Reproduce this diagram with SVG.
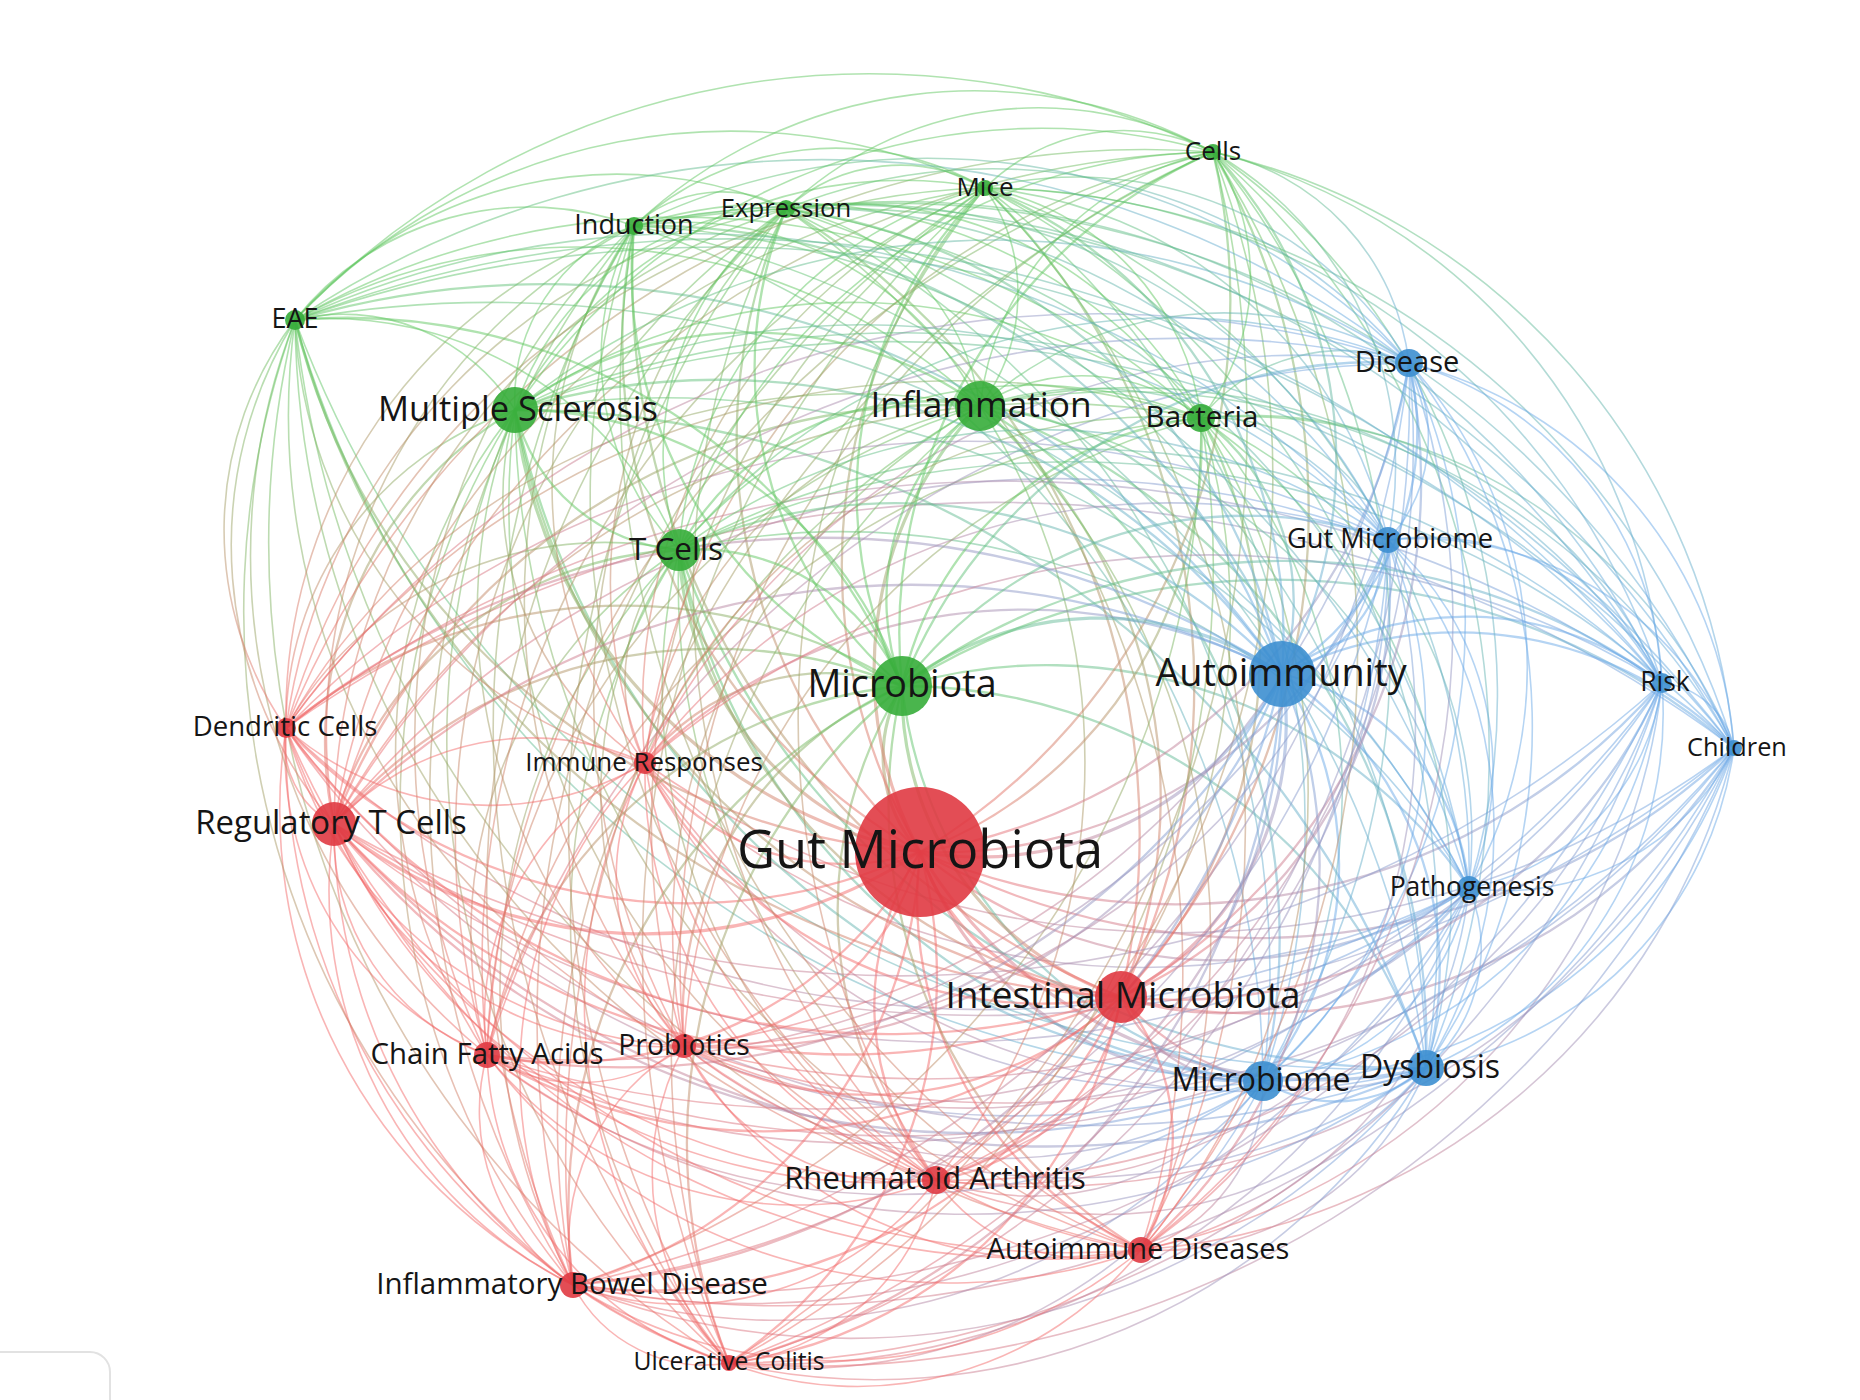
<svg xmlns="http://www.w3.org/2000/svg" width="1860" height="1400" viewBox="0 0 1860 1400">
<style>
.e path{fill:none;vector-effect:non-scaling-stroke;stroke-opacity:.5;stroke-linecap:round}
.gg{stroke:#62c762}.rr{stroke:#f36c6c}.bb{stroke:#6ba9e8}
.rg{stroke:url(#Grg)}.gr{stroke:url(#Ggr)}.rb{stroke:url(#Grb)}.br{stroke:url(#Gbr)}.gb{stroke:url(#Ggb)}.bg{stroke:url(#Gbg)}
.w1{stroke-width:1.6}.w2{stroke-width:2.3}.w3{stroke-width:3.2}
.n circle{fill-opacity:.9}
.ng circle{fill:#36ad3a}.nr circle{fill:#e03a42}.nb circle{fill:#3d8fd0}
.n text{font-family:"Open Sans","Noto Sans","DejaVu Sans",sans-serif;fill:#151515;text-anchor:middle}
</style>
<defs>
<linearGradient id="Grg" gradientUnits="userSpaceOnUse" x1="0" y1="0" x2="1" y2="0"><stop offset="0" stop-color="#f36c6c"/><stop offset="1" stop-color="#62c762"/></linearGradient>
<linearGradient id="Ggr" gradientUnits="userSpaceOnUse" x1="0" y1="0" x2="1" y2="0"><stop offset="0" stop-color="#62c762"/><stop offset="1" stop-color="#f36c6c"/></linearGradient>
<linearGradient id="Grb" gradientUnits="userSpaceOnUse" x1="0" y1="0" x2="1" y2="0"><stop offset="0" stop-color="#f36c6c"/><stop offset="1" stop-color="#6ba9e8"/></linearGradient>
<linearGradient id="Gbr" gradientUnits="userSpaceOnUse" x1="0" y1="0" x2="1" y2="0"><stop offset="0" stop-color="#6ba9e8"/><stop offset="1" stop-color="#f36c6c"/></linearGradient>
<linearGradient id="Ggb" gradientUnits="userSpaceOnUse" x1="0" y1="0" x2="1" y2="0"><stop offset="0" stop-color="#62c762"/><stop offset="1" stop-color="#6ba9e8"/></linearGradient>
<linearGradient id="Gbg" gradientUnits="userSpaceOnUse" x1="0" y1="0" x2="1" y2="0"><stop offset="0" stop-color="#6ba9e8"/><stop offset="1" stop-color="#62c762"/></linearGradient>
</defs>
<rect width="1860" height="1400" fill="#ffffff"/>
<g id="connectors" class="e">
<path class="bb w1" transform="matrix(-265 140 -140 -265 1734 748)" d="M0 0A.85 .85 0 0 1 1 0"/>
<path class="bb w1" transform="matrix(-308 320 -320 -308 1734 748)" d="M0 0A.85 .85 0 0 1 1 0"/>
<path class="bb w1" transform="matrix(-471 333 -333 -471 1734 748)" d="M0 0A.85 .85 0 0 1 1 0"/>
<path class="br w2" transform="matrix(-613 249 -249 -613 1734 748)" d="M0 0A.85 .85 0 0 1 1 0"/>
<path class="br w1" transform="matrix(-593 502 -502 -593 1734 748)" d="M0 0A.85 .85 0 0 1 1 0"/>
<path class="br w1" transform="matrix(-798 432 -432 -798 1734 748)" d="M0 0A.85 .85 0 0 1 1 0"/>
<path class="br w2" transform="matrix(-814 104 -104 -814 1734 748)" d="M0 0A.85 .85 0 0 1 1 0"/>
<path class="br w1" transform="matrix(-1005 615 -615 -1005 1734 748)" d="M0 0A.85 .85 0 0 1 1 0"/>
<path class="br w1" transform="matrix(-1161 537 -537 -1161 1734 748)" d="M0 0A.85 .85 0 0 1 1 0"/>
<path class="br w1" transform="matrix(-1050 298 -298 -1050 1734 748)" d="M0 0A.85 .85 0 0 1 1 0"/>
<path class="br w1" transform="matrix(-1247 307 -307 -1247 1734 748)" d="M0 0A.85 .85 0 0 1 1 0"/>
<path class="br w1" transform="matrix(-1400 76 -76 -1400 1734 748)" d="M0 0A.85 .85 0 0 1 1 0"/>
<path class="br w1" transform="matrix(-1089 15 -15 -1089 1734 748)" d="M0 0A.85 .85 0 0 1 1 0"/>
<path class="rb w1" transform="matrix(1448 20 -20 1448 286 728)" d="M0 0A.85 .85 0 0 1 1 0"/>
<path class="gb w1" transform="matrix(1439 428 -428 1439 295 320)" d="M0 0A.85 .85 0 0 1 1 0"/>
<path class="gb w1" transform="matrix(1055 198 -198 1055 679 550)" d="M0 0A.85 .85 0 0 1 1 0"/>
<path class="gb w1" transform="matrix(1219 338 -338 1219 515 410)" d="M0 0A.85 .85 0 0 1 1 0"/>
<path class="gb w2" transform="matrix(832 62 -62 832 902 686)" d="M0 0A.85 .85 0 0 1 1 0"/>
<path class="gb w1" transform="matrix(1100 522 -522 1100 634 226)" d="M0 0A.85 .85 0 0 1 1 0"/>
<path class="gb w1" transform="matrix(948 539 -539 948 786 209)" d="M0 0A.85 .85 0 0 1 1 0"/>
<path class="gb w1" transform="matrix(749 560 -560 749 985 188)" d="M0 0A.85 .85 0 0 1 1 0"/>
<path class="gb w1" transform="matrix(754 342 -342 754 980 406)" d="M0 0A.85 .85 0 0 1 1 0"/>
<path class="gb w1" transform="matrix(521 596 -596 521 1213 152)" d="M0 0A.85 .85 0 0 1 1 0"/>
<path class="gb w1" transform="matrix(533 330 -330 533 1201 418)" d="M0 0A.85 .85 0 0 1 1 0"/>
<path class="bb w1" transform="matrix(325 385 -385 325 1409 363)" d="M0 0A.85 .85 0 0 1 1 0"/>
<path class="bb w1" transform="matrix(346 208 -208 346 1388 540)" d="M0 0A.85 .85 0 0 1 1 0"/>
<path class="bb w2" transform="matrix(452 74 -74 452 1282 674)" d="M0 0A.85 .85 0 0 1 1 0"/>
<path class="bb w1" transform="matrix(72 65 -65 72 1662 683)" d="M0 0A.85 .85 0 0 1 1 0"/>
<path class="bb w1" transform="matrix(-43 180 -180 -43 1469 888)" d="M0 0A.85 .85 0 0 1 1 0"/>
<path class="bb w1" transform="matrix(-206 193 -193 -206 1469 888)" d="M0 0A.85 .85 0 0 1 1 0"/>
<path class="br w2" transform="matrix(-348 109 -109 -348 1469 888)" d="M0 0A.85 .85 0 0 1 1 0"/>
<path class="br w1" transform="matrix(-328 362 -362 -328 1469 888)" d="M0 0A.85 .85 0 0 1 1 0"/>
<path class="br w1" transform="matrix(-533 292 -292 -533 1469 888)" d="M0 0A.85 .85 0 0 1 1 0"/>
<path class="br w2" transform="matrix(-549 -36 36 -549 1469 888)" d="M0 0A.85 .85 0 0 1 1 0"/>
<path class="br w1" transform="matrix(-740 475 -475 -740 1469 888)" d="M0 0A.85 .85 0 0 1 1 0"/>
<path class="br w1" transform="matrix(-896 397 -397 -896 1469 888)" d="M0 0A.85 .85 0 0 1 1 0"/>
<path class="br w1" transform="matrix(-785 158 -158 -785 1469 888)" d="M0 0A.85 .85 0 0 1 1 0"/>
<path class="br w1" transform="matrix(-982 167 -167 -982 1469 888)" d="M0 0A.85 .85 0 0 1 1 0"/>
<path class="br w1" transform="matrix(-1135 -64 64 -1135 1469 888)" d="M0 0A.85 .85 0 0 1 1 0"/>
<path class="br w1" transform="matrix(-824 -125 125 -824 1469 888)" d="M0 0A.85 .85 0 0 1 1 0"/>
<path class="br w1" transform="matrix(-1183 -160 160 -1183 1469 888)" d="M0 0A.85 .85 0 0 1 1 0"/>
<path class="gb w1" transform="matrix(1174 568 -568 1174 295 320)" d="M0 0A.85 .85 0 0 1 1 0"/>
<path class="gb w1" transform="matrix(790 338 -338 790 679 550)" d="M0 0A.85 .85 0 0 1 1 0"/>
<path class="gb w1" transform="matrix(954 478 -478 954 515 410)" d="M0 0A.85 .85 0 0 1 1 0"/>
<path class="gb w2" transform="matrix(567 202 -202 567 902 686)" d="M0 0A.85 .85 0 0 1 1 0"/>
<path class="gb w1" transform="matrix(835 662 -662 835 634 226)" d="M0 0A.85 .85 0 0 1 1 0"/>
<path class="gb w1" transform="matrix(683 679 -679 683 786 209)" d="M0 0A.85 .85 0 0 1 1 0"/>
<path class="gb w1" transform="matrix(484 700 -700 484 985 188)" d="M0 0A.85 .85 0 0 1 1 0"/>
<path class="gb w1" transform="matrix(489 482 -482 489 980 406)" d="M0 0A.85 .85 0 0 1 1 0"/>
<path class="gb w1" transform="matrix(256 736 -736 256 1213 152)" d="M0 0A.85 .85 0 0 1 1 0"/>
<path class="gb w1" transform="matrix(268 470 -470 268 1201 418)" d="M0 0A.85 .85 0 0 1 1 0"/>
<path class="bb w1" transform="matrix(60 525 -525 60 1409 363)" d="M0 0A.85 .85 0 0 1 1 0"/>
<path class="bb w1" transform="matrix(81 348 -348 81 1388 540)" d="M0 0A.85 .85 0 0 1 1 0"/>
<path class="bb w2" transform="matrix(187 214 -214 187 1282 674)" d="M0 0A.85 .85 0 0 1 1 0"/>
<path class="bb w1" transform="matrix(-193 205 -205 -193 1662 683)" d="M0 0A.85 .85 0 0 1 1 0"/>
<path class="bb w2" transform="matrix(-163 13 -13 -163 1426 1068)" d="M0 0A.85 .85 0 0 1 1 0"/>
<path class="br w2" transform="matrix(-305 -71 71 -305 1426 1068)" d="M0 0A.85 .85 0 0 1 1 0"/>
<path class="br w1" transform="matrix(-285 182 -182 -285 1426 1068)" d="M0 0A.85 .85 0 0 1 1 0"/>
<path class="br w1" transform="matrix(-490 112 -112 -490 1426 1068)" d="M0 0A.85 .85 0 0 1 1 0"/>
<path class="br w3" transform="matrix(-506 -216 216 -506 1426 1068)" d="M0 0A.85 .85 0 0 1 1 0"/>
<path class="br w1" transform="matrix(-697 295 -295 -697 1426 1068)" d="M0 0A.85 .85 0 0 1 1 0"/>
<path class="br w1" transform="matrix(-853 217 -217 -853 1426 1068)" d="M0 0A.85 .85 0 0 1 1 0"/>
<path class="br w1" transform="matrix(-742 -22 22 -742 1426 1068)" d="M0 0A.85 .85 0 0 1 1 0"/>
<path class="br w1" transform="matrix(-939 -13 13 -939 1426 1068)" d="M0 0A.85 .85 0 0 1 1 0"/>
<path class="br w2" transform="matrix(-1092 -244 244 -1092 1426 1068)" d="M0 0A.85 .85 0 0 1 1 0"/>
<path class="br w1" transform="matrix(-781 -305 305 -781 1426 1068)" d="M0 0A.85 .85 0 0 1 1 0"/>
<path class="br w1" transform="matrix(-1140 -340 340 -1140 1426 1068)" d="M0 0A.85 .85 0 0 1 1 0"/>
<path class="bg w1" transform="matrix(-1131 -748 748 -1131 1426 1068)" d="M0 0A.85 .85 0 0 1 1 0"/>
<path class="bg w2" transform="matrix(-747 -518 518 -747 1426 1068)" d="M0 0A.85 .85 0 0 1 1 0"/>
<path class="gb w2" transform="matrix(911 658 -658 911 515 410)" d="M0 0A.85 .85 0 0 1 1 0"/>
<path class="gb w2" transform="matrix(524 382 -382 524 902 686)" d="M0 0A.85 .85 0 0 1 1 0"/>
<path class="gb w1" transform="matrix(792 842 -842 792 634 226)" d="M0 0A.85 .85 0 0 1 1 0"/>
<path class="gb w1" transform="matrix(640 859 -859 640 786 209)" d="M0 0A.85 .85 0 0 1 1 0"/>
<path class="gb w1" transform="matrix(441 880 -880 441 985 188)" d="M0 0A.85 .85 0 0 1 1 0"/>
<path class="gb w2" transform="matrix(446 662 -662 446 980 406)" d="M0 0A.85 .85 0 0 1 1 0"/>
<path class="gb w1" transform="matrix(213 916 -916 213 1213 152)" d="M0 0A.85 .85 0 0 1 1 0"/>
<path class="gb w1" transform="matrix(225 650 -650 225 1201 418)" d="M0 0A.85 .85 0 0 1 1 0"/>
<path class="bb w1" transform="matrix(17 705 -705 17 1409 363)" d="M0 0A.85 .85 0 0 1 1 0"/>
<path class="bb w1" transform="matrix(38 528 -528 38 1388 540)" d="M0 0A.85 .85 0 0 1 1 0"/>
<path class="bb w2" transform="matrix(144 394 -394 144 1282 674)" d="M0 0A.85 .85 0 0 1 1 0"/>
<path class="bb w1" transform="matrix(-236 385 -385 -236 1662 683)" d="M0 0A.85 .85 0 0 1 1 0"/>
<path class="br w2" transform="matrix(-142 -84 84 -142 1263 1081)" d="M0 0A.85 .85 0 0 1 1 0"/>
<path class="br w1" transform="matrix(-122 169 -169 -122 1263 1081)" d="M0 0A.85 .85 0 0 1 1 0"/>
<path class="br w1" transform="matrix(-327 99 -99 -327 1263 1081)" d="M0 0A.85 .85 0 0 1 1 0"/>
<path class="br w3" transform="matrix(-343 -229 229 -343 1263 1081)" d="M0 0A.85 .85 0 0 1 1 0"/>
<path class="br w1" transform="matrix(-534 282 -282 -534 1263 1081)" d="M0 0A.85 .85 0 0 1 1 0"/>
<path class="br w1" transform="matrix(-690 204 -204 -690 1263 1081)" d="M0 0A.85 .85 0 0 1 1 0"/>
<path class="br w1" transform="matrix(-579 -35 35 -579 1263 1081)" d="M0 0A.85 .85 0 0 1 1 0"/>
<path class="br w1" transform="matrix(-776 -26 26 -776 1263 1081)" d="M0 0A.85 .85 0 0 1 1 0"/>
<path class="br w2" transform="matrix(-929 -257 257 -929 1263 1081)" d="M0 0A.85 .85 0 0 1 1 0"/>
<path class="br w1" transform="matrix(-618 -318 318 -618 1263 1081)" d="M0 0A.85 .85 0 0 1 1 0"/>
<path class="br w1" transform="matrix(-977 -353 353 -977 1263 1081)" d="M0 0A.85 .85 0 0 1 1 0"/>
<path class="bg w1" transform="matrix(-968 -761 761 -968 1263 1081)" d="M0 0A.85 .85 0 0 1 1 0"/>
<path class="bg w2" transform="matrix(-584 -531 531 -584 1263 1081)" d="M0 0A.85 .85 0 0 1 1 0"/>
<path class="bg w2" transform="matrix(-748 -671 671 -748 1263 1081)" d="M0 0A.85 .85 0 0 1 1 0"/>
<path class="bg w2" transform="matrix(-361 -395 395 -361 1263 1081)" d="M0 0A.85 .85 0 0 1 1 0"/>
<path class="gb w1" transform="matrix(629 855 -855 629 634 226)" d="M0 0A.85 .85 0 0 1 1 0"/>
<path class="gb w1" transform="matrix(477 872 -872 477 786 209)" d="M0 0A.85 .85 0 0 1 1 0"/>
<path class="gb w1" transform="matrix(278 893 -893 278 985 188)" d="M0 0A.85 .85 0 0 1 1 0"/>
<path class="gb w2" transform="matrix(283 675 -675 283 980 406)" d="M0 0A.85 .85 0 0 1 1 0"/>
<path class="gb w1" transform="matrix(50 929 -929 50 1213 152)" d="M0 0A.85 .85 0 0 1 1 0"/>
<path class="gb w1" transform="matrix(62 663 -663 62 1201 418)" d="M0 0A.85 .85 0 0 1 1 0"/>
<path class="bb w1" transform="matrix(-146 718 -718 -146 1409 363)" d="M0 0A.85 .85 0 0 1 1 0"/>
<path class="bb w1" transform="matrix(-125 541 -541 -125 1388 540)" d="M0 0A.85 .85 0 0 1 1 0"/>
<path class="bb w2" transform="matrix(-19 407 -407 -19 1282 674)" d="M0 0A.85 .85 0 0 1 1 0"/>
<path class="bb w1" transform="matrix(-399 398 -398 -399 1662 683)" d="M0 0A.85 .85 0 0 1 1 0"/>
<path class="rr w2" transform="matrix(20 253 -253 20 1121 997)" d="M0 0A.85 .85 0 0 1 1 0"/>
<path class="rr w2" transform="matrix(-185 183 -183 -185 1121 997)" d="M0 0A.85 .85 0 0 1 1 0"/>
<path class="rr w3" transform="matrix(-201 -145 145 -201 1121 997)" d="M0 0A.85 .85 0 0 1 1 0"/>
<path class="rr w2" transform="matrix(-392 366 -366 -392 1121 997)" d="M0 0A.85 .85 0 0 1 1 0"/>
<path class="rr w2" transform="matrix(-548 288 -288 -548 1121 997)" d="M0 0A.85 .85 0 0 1 1 0"/>
<path class="rr w2" transform="matrix(-437 49 -49 -437 1121 997)" d="M0 0A.85 .85 0 0 1 1 0"/>
<path class="rr w2" transform="matrix(-634 58 -58 -634 1121 997)" d="M0 0A.85 .85 0 0 1 1 0"/>
<path class="rr w2" transform="matrix(-787 -173 173 -787 1121 997)" d="M0 0A.85 .85 0 0 1 1 0"/>
<path class="rr w2" transform="matrix(-476 -234 234 -476 1121 997)" d="M0 0A.85 .85 0 0 1 1 0"/>
<path class="rr w2" transform="matrix(-835 -269 269 -835 1121 997)" d="M0 0A.85 .85 0 0 1 1 0"/>
<path class="rg w2" transform="matrix(-826 -677 677 -826 1121 997)" d="M0 0A.85 .85 0 0 1 1 0"/>
<path class="rg w2" transform="matrix(-442 -447 447 -442 1121 997)" d="M0 0A.85 .85 0 0 1 1 0"/>
<path class="rg w2" transform="matrix(-606 -587 587 -606 1121 997)" d="M0 0A.85 .85 0 0 1 1 0"/>
<path class="rg w3" transform="matrix(-219 -311 311 -219 1121 997)" d="M0 0A.85 .85 0 0 1 1 0"/>
<path class="rg w2" transform="matrix(-487 -771 771 -487 1121 997)" d="M0 0A.85 .85 0 0 1 1 0"/>
<path class="gr w2" transform="matrix(335 788 -788 335 786 209)" d="M0 0A.85 .85 0 0 1 1 0"/>
<path class="gr w2" transform="matrix(136 809 -809 136 985 188)" d="M0 0A.85 .85 0 0 1 1 0"/>
<path class="gr w2" transform="matrix(141 591 -591 141 980 406)" d="M0 0A.85 .85 0 0 1 1 0"/>
<path class="gr w2" transform="matrix(-92 845 -845 -92 1213 152)" d="M0 0A.85 .85 0 0 1 1 0"/>
<path class="gr w2" transform="matrix(-80 579 -579 -80 1201 418)" d="M0 0A.85 .85 0 0 1 1 0"/>
<path class="br w2" transform="matrix(-288 634 -634 -288 1409 363)" d="M0 0A.85 .85 0 0 1 1 0"/>
<path class="br w2" transform="matrix(-267 457 -457 -267 1388 540)" d="M0 0A.85 .85 0 0 1 1 0"/>
<path class="br w3" transform="matrix(-161 323 -323 -161 1282 674)" d="M0 0A.85 .85 0 0 1 1 0"/>
<path class="br w2" transform="matrix(-541 314 -314 -541 1662 683)" d="M0 0A.85 .85 0 0 1 1 0"/>
<path class="rr w1" transform="matrix(-205 -70 70 -205 1141 1250)" d="M0 0A.85 .85 0 0 1 1 0"/>
<path class="rr w2" transform="matrix(-221 -398 398 -221 1141 1250)" d="M0 0A.85 .85 0 0 1 1 0"/>
<path class="rr w1" transform="matrix(-412 113 -113 -412 1141 1250)" d="M0 0A.85 .85 0 0 1 1 0"/>
<path class="rr w1" transform="matrix(-568 35 -35 -568 1141 1250)" d="M0 0A.85 .85 0 0 1 1 0"/>
<path class="rr w1" transform="matrix(-457 -204 204 -457 1141 1250)" d="M0 0A.85 .85 0 0 1 1 0"/>
<path class="rr w1" transform="matrix(-654 -195 195 -654 1141 1250)" d="M0 0A.85 .85 0 0 1 1 0"/>
<path class="rr w1" transform="matrix(-807 -426 426 -807 1141 1250)" d="M0 0A.85 .85 0 0 1 1 0"/>
<path class="rr w1" transform="matrix(-496 -487 487 -496 1141 1250)" d="M0 0A.85 .85 0 0 1 1 0"/>
<path class="rr w1" transform="matrix(-855 -522 522 -855 1141 1250)" d="M0 0A.85 .85 0 0 1 1 0"/>
<path class="rg w1" transform="matrix(-846 -930 930 -846 1141 1250)" d="M0 0A.85 .85 0 0 1 1 0"/>
<path class="rg w1" transform="matrix(-462 -700 700 -462 1141 1250)" d="M0 0A.85 .85 0 0 1 1 0"/>
<path class="rg w1" transform="matrix(-626 -840 840 -626 1141 1250)" d="M0 0A.85 .85 0 0 1 1 0"/>
<path class="rg w2" transform="matrix(-239 -564 564 -239 1141 1250)" d="M0 0A.85 .85 0 0 1 1 0"/>
<path class="rg w1" transform="matrix(-507 -1024 1024 -507 1141 1250)" d="M0 0A.85 .85 0 0 1 1 0"/>
<path class="gr w1" transform="matrix(355 1041 -1041 355 786 209)" d="M0 0A.85 .85 0 0 1 1 0"/>
<path class="gr w1" transform="matrix(156 1062 -1062 156 985 188)" d="M0 0A.85 .85 0 0 1 1 0"/>
<path class="gr w1" transform="matrix(161 844 -844 161 980 406)" d="M0 0A.85 .85 0 0 1 1 0"/>
<path class="gr w1" transform="matrix(-72 1098 -1098 -72 1213 152)" d="M0 0A.85 .85 0 0 1 1 0"/>
<path class="gr w1" transform="matrix(-60 832 -832 -60 1201 418)" d="M0 0A.85 .85 0 0 1 1 0"/>
<path class="br w1" transform="matrix(-268 887 -887 -268 1409 363)" d="M0 0A.85 .85 0 0 1 1 0"/>
<path class="br w1" transform="matrix(-247 710 -710 -247 1388 540)" d="M0 0A.85 .85 0 0 1 1 0"/>
<path class="br w2" transform="matrix(-141 576 -576 -141 1282 674)" d="M0 0A.85 .85 0 0 1 1 0"/>
<path class="br w1" transform="matrix(-521 567 -567 -521 1662 683)" d="M0 0A.85 .85 0 0 1 1 0"/>
<path class="rr w2" transform="matrix(-16 -328 328 -16 936 1180)" d="M0 0A.85 .85 0 0 1 1 0"/>
<path class="rr w1" transform="matrix(-207 183 -183 -207 936 1180)" d="M0 0A.85 .85 0 0 1 1 0"/>
<path class="rr w1" transform="matrix(-363 105 -105 -363 936 1180)" d="M0 0A.85 .85 0 0 1 1 0"/>
<path class="rr w1" transform="matrix(-252 -134 134 -252 936 1180)" d="M0 0A.85 .85 0 0 1 1 0"/>
<path class="rr w1" transform="matrix(-449 -125 125 -449 936 1180)" d="M0 0A.85 .85 0 0 1 1 0"/>
<path class="rr w1" transform="matrix(-602 -356 356 -602 936 1180)" d="M0 0A.85 .85 0 0 1 1 0"/>
<path class="rr w1" transform="matrix(-291 -417 417 -291 936 1180)" d="M0 0A.85 .85 0 0 1 1 0"/>
<path class="rr w1" transform="matrix(-650 -452 452 -650 936 1180)" d="M0 0A.85 .85 0 0 1 1 0"/>
<path class="rg w1" transform="matrix(-641 -860 860 -641 936 1180)" d="M0 0A.85 .85 0 0 1 1 0"/>
<path class="rg w1" transform="matrix(-257 -630 630 -257 936 1180)" d="M0 0A.85 .85 0 0 1 1 0"/>
<path class="rg w1" transform="matrix(-421 -770 770 -421 936 1180)" d="M0 0A.85 .85 0 0 1 1 0"/>
<path class="rg w2" transform="matrix(-34 -494 494 -34 936 1180)" d="M0 0A.85 .85 0 0 1 1 0"/>
<path class="rg w1" transform="matrix(-302 -954 954 -302 936 1180)" d="M0 0A.85 .85 0 0 1 1 0"/>
<path class="rg w1" transform="matrix(-150 -971 971 -150 936 1180)" d="M0 0A.85 .85 0 0 1 1 0"/>
<path class="rg w1" transform="matrix(49 -992 992 49 936 1180)" d="M0 0A.85 .85 0 0 1 1 0"/>
<path class="gr w1" transform="matrix(-44 774 -774 -44 980 406)" d="M0 0A.85 .85 0 0 1 1 0"/>
<path class="gr w1" transform="matrix(-277 1028 -1028 -277 1213 152)" d="M0 0A.85 .85 0 0 1 1 0"/>
<path class="gr w1" transform="matrix(-265 762 -762 -265 1201 418)" d="M0 0A.85 .85 0 0 1 1 0"/>
<path class="br w1" transform="matrix(-473 817 -817 -473 1409 363)" d="M0 0A.85 .85 0 0 1 1 0"/>
<path class="br w1" transform="matrix(-452 640 -640 -452 1388 540)" d="M0 0A.85 .85 0 0 1 1 0"/>
<path class="br w2" transform="matrix(-346 506 -506 -346 1282 674)" d="M0 0A.85 .85 0 0 1 1 0"/>
<path class="br w1" transform="matrix(-726 497 -497 -726 1662 683)" d="M0 0A.85 .85 0 0 1 1 0"/>
<path class="rr w2" transform="matrix(-191 511 -511 -191 920 852)" d="M0 0A.85 .85 0 0 1 1 0"/>
<path class="rr w2" transform="matrix(-347 433 -433 -347 920 852)" d="M0 0A.85 .85 0 0 1 1 0"/>
<path class="rr w2" transform="matrix(-236 194 -194 -236 920 852)" d="M0 0A.85 .85 0 0 1 1 0"/>
<path class="rr w2" transform="matrix(-433 203 -203 -433 920 852)" d="M0 0A.85 .85 0 0 1 1 0"/>
<path class="rr w3" transform="matrix(-586 -28 28 -586 920 852)" d="M0 0A.85 .85 0 0 1 1 0"/>
<path class="rr w2" transform="matrix(-275 -89 89 -275 920 852)" d="M0 0A.85 .85 0 0 1 1 0"/>
<path class="rr w2" transform="matrix(-634 -124 124 -634 920 852)" d="M0 0A.85 .85 0 0 1 1 0"/>
<path class="rg w2" transform="matrix(-625 -532 532 -625 920 852)" d="M0 0A.85 .85 0 0 1 1 0"/>
<path class="rg w3" transform="matrix(-241 -302 302 -241 920 852)" d="M0 0A.85 .85 0 0 1 1 0"/>
<path class="rg w3" transform="matrix(-405 -442 442 -405 920 852)" d="M0 0A.85 .85 0 0 1 1 0"/>
<path class="rg w3" transform="matrix(-18 -166 166 -18 920 852)" d="M0 0A.85 .85 0 0 1 1 0"/>
<path class="rg w2" transform="matrix(-286 -626 626 -286 920 852)" d="M0 0A.85 .85 0 0 1 1 0"/>
<path class="rg w2" transform="matrix(-134 -643 643 -134 920 852)" d="M0 0A.85 .85 0 0 1 1 0"/>
<path class="rg w2" transform="matrix(65 -664 664 65 920 852)" d="M0 0A.85 .85 0 0 1 1 0"/>
<path class="rg w3" transform="matrix(60 -446 446 60 920 852)" d="M0 0A.85 .85 0 0 1 1 0"/>
<path class="gr w2" transform="matrix(-293 700 -700 -293 1213 152)" d="M0 0A.85 .85 0 0 1 1 0"/>
<path class="gr w2" transform="matrix(-281 434 -434 -281 1201 418)" d="M0 0A.85 .85 0 0 1 1 0"/>
<path class="br w2" transform="matrix(-489 489 -489 -489 1409 363)" d="M0 0A.85 .85 0 0 1 1 0"/>
<path class="br w2" transform="matrix(-468 312 -312 -468 1388 540)" d="M0 0A.85 .85 0 0 1 1 0"/>
<path class="br w3" transform="matrix(-362 178 -178 -362 1282 674)" d="M0 0A.85 .85 0 0 1 1 0"/>
<path class="br w2" transform="matrix(-742 169 -169 -742 1662 683)" d="M0 0A.85 .85 0 0 1 1 0"/>
<path class="rr w1" transform="matrix(-156 -78 78 -156 729 1363)" d="M0 0A.85 .85 0 0 1 1 0"/>
<path class="rr w1" transform="matrix(-45 -317 317 -45 729 1363)" d="M0 0A.85 .85 0 0 1 1 0"/>
<path class="rr w1" transform="matrix(-242 -308 308 -242 729 1363)" d="M0 0A.85 .85 0 0 1 1 0"/>
<path class="rr w1" transform="matrix(-395 -539 539 -395 729 1363)" d="M0 0A.85 .85 0 0 1 1 0"/>
<path class="rr w1" transform="matrix(-84 -600 600 -84 729 1363)" d="M0 0A.85 .85 0 0 1 1 0"/>
<path class="rr w1" transform="matrix(-443 -635 635 -443 729 1363)" d="M0 0A.85 .85 0 0 1 1 0"/>
<path class="rg w1" transform="matrix(-434 -1043 1043 -434 729 1363)" d="M0 0A.85 .85 0 0 1 1 0"/>
<path class="rg w1" transform="matrix(-50 -813 813 -50 729 1363)" d="M0 0A.85 .85 0 0 1 1 0"/>
<path class="rg w1" transform="matrix(-214 -953 953 -214 729 1363)" d="M0 0A.85 .85 0 0 1 1 0"/>
<path class="rg w2" transform="matrix(173 -677 677 173 729 1363)" d="M0 0A.85 .85 0 0 1 1 0"/>
<path class="rg w1" transform="matrix(-95 -1137 1137 -95 729 1363)" d="M0 0A.85 .85 0 0 1 1 0"/>
<path class="rg w1" transform="matrix(57 -1154 1154 57 729 1363)" d="M0 0A.85 .85 0 0 1 1 0"/>
<path class="rg w1" transform="matrix(256 -1175 1175 256 729 1363)" d="M0 0A.85 .85 0 0 1 1 0"/>
<path class="rg w1" transform="matrix(251 -957 957 251 729 1363)" d="M0 0A.85 .85 0 0 1 1 0"/>
<path class="gr w1" transform="matrix(-484 1211 -1211 -484 1213 152)" d="M0 0A.85 .85 0 0 1 1 0"/>
<path class="gr w1" transform="matrix(-472 945 -945 -472 1201 418)" d="M0 0A.85 .85 0 0 1 1 0"/>
<path class="br w1" transform="matrix(-680 1000 -1000 -680 1409 363)" d="M0 0A.85 .85 0 0 1 1 0"/>
<path class="br w1" transform="matrix(-659 823 -823 -659 1388 540)" d="M0 0A.85 .85 0 0 1 1 0"/>
<path class="br w2" transform="matrix(-553 689 -689 -553 1282 674)" d="M0 0A.85 .85 0 0 1 1 0"/>
<path class="br w1" transform="matrix(-933 680 -680 -933 1662 683)" d="M0 0A.85 .85 0 0 1 1 0"/>
<path class="rr w1" transform="matrix(111 -239 239 111 573 1285)" d="M0 0A.85 .85 0 0 1 1 0"/>
<path class="rr w1" transform="matrix(-86 -230 230 -86 573 1285)" d="M0 0A.85 .85 0 0 1 1 0"/>
<path class="rr w1" transform="matrix(-239 -461 461 -239 573 1285)" d="M0 0A.85 .85 0 0 1 1 0"/>
<path class="rr w1" transform="matrix(72 -522 522 72 573 1285)" d="M0 0A.85 .85 0 0 1 1 0"/>
<path class="rr w1" transform="matrix(-287 -557 557 -287 573 1285)" d="M0 0A.85 .85 0 0 1 1 0"/>
<path class="rg w1" transform="matrix(-278 -965 965 -278 573 1285)" d="M0 0A.85 .85 0 0 1 1 0"/>
<path class="rg w1" transform="matrix(106 -735 735 106 573 1285)" d="M0 0A.85 .85 0 0 1 1 0"/>
<path class="rg w1" transform="matrix(-58 -875 875 -58 573 1285)" d="M0 0A.85 .85 0 0 1 1 0"/>
<path class="rg w2" transform="matrix(329 -599 599 329 573 1285)" d="M0 0A.85 .85 0 0 1 1 0"/>
<path class="rg w1" transform="matrix(61 -1059 1059 61 573 1285)" d="M0 0A.85 .85 0 0 1 1 0"/>
<path class="rg w1" transform="matrix(213 -1076 1076 213 573 1285)" d="M0 0A.85 .85 0 0 1 1 0"/>
<path class="rg w1" transform="matrix(412 -1097 1097 412 573 1285)" d="M0 0A.85 .85 0 0 1 1 0"/>
<path class="rg w1" transform="matrix(407 -879 879 407 573 1285)" d="M0 0A.85 .85 0 0 1 1 0"/>
<path class="rg w1" transform="matrix(640 -1133 1133 640 573 1285)" d="M0 0A.85 .85 0 0 1 1 0"/>
<path class="gr w1" transform="matrix(-628 867 -867 -628 1201 418)" d="M0 0A.85 .85 0 0 1 1 0"/>
<path class="br w1" transform="matrix(-836 922 -922 -836 1409 363)" d="M0 0A.85 .85 0 0 1 1 0"/>
<path class="br w1" transform="matrix(-815 745 -745 -815 1388 540)" d="M0 0A.85 .85 0 0 1 1 0"/>
<path class="br w2" transform="matrix(-709 611 -611 -709 1282 674)" d="M0 0A.85 .85 0 0 1 1 0"/>
<path class="br w1" transform="matrix(-1089 602 -602 -1089 1662 683)" d="M0 0A.85 .85 0 0 1 1 0"/>
<path class="rr w1" transform="matrix(-197 9 -9 -197 684 1046)" d="M0 0A.85 .85 0 0 1 1 0"/>
<path class="rr w1" transform="matrix(-350 -222 222 -350 684 1046)" d="M0 0A.85 .85 0 0 1 1 0"/>
<path class="rr w1" transform="matrix(-39 -283 283 -39 684 1046)" d="M0 0A.85 .85 0 0 1 1 0"/>
<path class="rr w1" transform="matrix(-398 -318 318 -398 684 1046)" d="M0 0A.85 .85 0 0 1 1 0"/>
<path class="rg w1" transform="matrix(-389 -726 726 -389 684 1046)" d="M0 0A.85 .85 0 0 1 1 0"/>
<path class="rg w1" transform="matrix(-5 -496 496 -5 684 1046)" d="M0 0A.85 .85 0 0 1 1 0"/>
<path class="rg w1" transform="matrix(-169 -636 636 -169 684 1046)" d="M0 0A.85 .85 0 0 1 1 0"/>
<path class="rg w2" transform="matrix(218 -360 360 218 684 1046)" d="M0 0A.85 .85 0 0 1 1 0"/>
<path class="rg w1" transform="matrix(-50 -820 820 -50 684 1046)" d="M0 0A.85 .85 0 0 1 1 0"/>
<path class="rg w1" transform="matrix(102 -837 837 102 684 1046)" d="M0 0A.85 .85 0 0 1 1 0"/>
<path class="rg w1" transform="matrix(301 -858 858 301 684 1046)" d="M0 0A.85 .85 0 0 1 1 0"/>
<path class="rg w1" transform="matrix(296 -640 640 296 684 1046)" d="M0 0A.85 .85 0 0 1 1 0"/>
<path class="rg w1" transform="matrix(529 -894 894 529 684 1046)" d="M0 0A.85 .85 0 0 1 1 0"/>
<path class="rg w1" transform="matrix(517 -628 628 517 684 1046)" d="M0 0A.85 .85 0 0 1 1 0"/>
<path class="br w1" transform="matrix(-725 683 -683 -725 1409 363)" d="M0 0A.85 .85 0 0 1 1 0"/>
<path class="br w1" transform="matrix(-704 506 -506 -704 1388 540)" d="M0 0A.85 .85 0 0 1 1 0"/>
<path class="br w2" transform="matrix(-598 372 -372 -598 1282 674)" d="M0 0A.85 .85 0 0 1 1 0"/>
<path class="br w1" transform="matrix(-978 363 -363 -978 1662 683)" d="M0 0A.85 .85 0 0 1 1 0"/>
<path class="rr w1" transform="matrix(-153 -231 231 -153 487 1055)" d="M0 0A.85 .85 0 0 1 1 0"/>
<path class="rr w1" transform="matrix(158 -292 292 158 487 1055)" d="M0 0A.85 .85 0 0 1 1 0"/>
<path class="rr w1" transform="matrix(-201 -327 327 -201 487 1055)" d="M0 0A.85 .85 0 0 1 1 0"/>
<path class="rg w1" transform="matrix(-192 -735 735 -192 487 1055)" d="M0 0A.85 .85 0 0 1 1 0"/>
<path class="rg w1" transform="matrix(192 -505 505 192 487 1055)" d="M0 0A.85 .85 0 0 1 1 0"/>
<path class="rg w1" transform="matrix(28 -645 645 28 487 1055)" d="M0 0A.85 .85 0 0 1 1 0"/>
<path class="rg w2" transform="matrix(415 -369 369 415 487 1055)" d="M0 0A.85 .85 0 0 1 1 0"/>
<path class="rg w1" transform="matrix(147 -829 829 147 487 1055)" d="M0 0A.85 .85 0 0 1 1 0"/>
<path class="rg w1" transform="matrix(299 -846 846 299 487 1055)" d="M0 0A.85 .85 0 0 1 1 0"/>
<path class="rg w1" transform="matrix(498 -867 867 498 487 1055)" d="M0 0A.85 .85 0 0 1 1 0"/>
<path class="rg w1" transform="matrix(493 -649 649 493 487 1055)" d="M0 0A.85 .85 0 0 1 1 0"/>
<path class="rg w1" transform="matrix(726 -903 903 726 487 1055)" d="M0 0A.85 .85 0 0 1 1 0"/>
<path class="rg w1" transform="matrix(714 -637 637 714 487 1055)" d="M0 0A.85 .85 0 0 1 1 0"/>
<path class="rb w1" transform="matrix(922 -692 692 922 487 1055)" d="M0 0A.85 .85 0 0 1 1 0"/>
<path class="br w1" transform="matrix(-901 515 -515 -901 1388 540)" d="M0 0A.85 .85 0 0 1 1 0"/>
<path class="br w2" transform="matrix(-795 381 -381 -795 1282 674)" d="M0 0A.85 .85 0 0 1 1 0"/>
<path class="br w1" transform="matrix(-1175 372 -372 -1175 1662 683)" d="M0 0A.85 .85 0 0 1 1 0"/>
<path class="rr w1" transform="matrix(311 -61 61 311 334 824)" d="M0 0A.85 .85 0 0 1 1 0"/>
<path class="rr w1" transform="matrix(-48 -96 96 -48 334 824)" d="M0 0A.85 .85 0 0 1 1 0"/>
<path class="rg w1" transform="matrix(-39 -504 504 -39 334 824)" d="M0 0A.85 .85 0 0 1 1 0"/>
<path class="rg w2" transform="matrix(345 -274 274 345 334 824)" d="M0 0A.85 .85 0 0 1 1 0"/>
<path class="rg w2" transform="matrix(181 -414 414 181 334 824)" d="M0 0A.85 .85 0 0 1 1 0"/>
<path class="rg w2" transform="matrix(568 -138 138 568 334 824)" d="M0 0A.85 .85 0 0 1 1 0"/>
<path class="rg w1" transform="matrix(300 -598 598 300 334 824)" d="M0 0A.85 .85 0 0 1 1 0"/>
<path class="rg w1" transform="matrix(452 -615 615 452 334 824)" d="M0 0A.85 .85 0 0 1 1 0"/>
<path class="rg w1" transform="matrix(651 -636 636 651 334 824)" d="M0 0A.85 .85 0 0 1 1 0"/>
<path class="rg w2" transform="matrix(646 -418 418 646 334 824)" d="M0 0A.85 .85 0 0 1 1 0"/>
<path class="rg w1" transform="matrix(879 -672 672 879 334 824)" d="M0 0A.85 .85 0 0 1 1 0"/>
<path class="rg w1" transform="matrix(867 -406 406 867 334 824)" d="M0 0A.85 .85 0 0 1 1 0"/>
<path class="rb w1" transform="matrix(1075 -461 461 1075 334 824)" d="M0 0A.85 .85 0 0 1 1 0"/>
<path class="rb w1" transform="matrix(1054 -284 284 1054 334 824)" d="M0 0A.85 .85 0 0 1 1 0"/>
<path class="rb w2" transform="matrix(948 -150 150 948 334 824)" d="M0 0A.85 .85 0 0 1 1 0"/>
<path class="br w1" transform="matrix(-1328 141 -141 -1328 1662 683)" d="M0 0A.85 .85 0 0 1 1 0"/>
<path class="rr w1" transform="matrix(-359 -35 35 -359 645 763)" d="M0 0A.85 .85 0 0 1 1 0"/>
<path class="rg w1" transform="matrix(-350 -443 443 -350 645 763)" d="M0 0A.85 .85 0 0 1 1 0"/>
<path class="rg w1" transform="matrix(34 -213 213 34 645 763)" d="M0 0A.85 .85 0 0 1 1 0"/>
<path class="rg w1" transform="matrix(-130 -353 353 -130 645 763)" d="M0 0A.85 .85 0 0 1 1 0"/>
<path class="rg w2" transform="matrix(257 -77 77 257 645 763)" d="M0 0A.85 .85 0 0 1 1 0"/>
<path class="rg w1" transform="matrix(-11 -537 537 -11 645 763)" d="M0 0A.85 .85 0 0 1 1 0"/>
<path class="rg w1" transform="matrix(141 -554 554 141 645 763)" d="M0 0A.85 .85 0 0 1 1 0"/>
<path class="rg w1" transform="matrix(340 -575 575 340 645 763)" d="M0 0A.85 .85 0 0 1 1 0"/>
<path class="rg w1" transform="matrix(335 -357 357 335 645 763)" d="M0 0A.85 .85 0 0 1 1 0"/>
<path class="rg w1" transform="matrix(568 -611 611 568 645 763)" d="M0 0A.85 .85 0 0 1 1 0"/>
<path class="rg w1" transform="matrix(556 -345 345 556 645 763)" d="M0 0A.85 .85 0 0 1 1 0"/>
<path class="rb w1" transform="matrix(764 -400 400 764 645 763)" d="M0 0A.85 .85 0 0 1 1 0"/>
<path class="rb w1" transform="matrix(743 -223 223 743 645 763)" d="M0 0A.85 .85 0 0 1 1 0"/>
<path class="rb w2" transform="matrix(637 -89 89 637 645 763)" d="M0 0A.85 .85 0 0 1 1 0"/>
<path class="rb w1" transform="matrix(1017 -80 80 1017 645 763)" d="M0 0A.85 .85 0 0 1 1 0"/>
<path class="rg w1" transform="matrix(9 -408 408 9 286 728)" d="M0 0A.85 .85 0 0 1 1 0"/>
<path class="rg w1" transform="matrix(393 -178 178 393 286 728)" d="M0 0A.85 .85 0 0 1 1 0"/>
<path class="rg w1" transform="matrix(229 -318 318 229 286 728)" d="M0 0A.85 .85 0 0 1 1 0"/>
<path class="rg w2" transform="matrix(616 -42 42 616 286 728)" d="M0 0A.85 .85 0 0 1 1 0"/>
<path class="rg w1" transform="matrix(348 -502 502 348 286 728)" d="M0 0A.85 .85 0 0 1 1 0"/>
<path class="rg w1" transform="matrix(500 -519 519 500 286 728)" d="M0 0A.85 .85 0 0 1 1 0"/>
<path class="rg w1" transform="matrix(699 -540 540 699 286 728)" d="M0 0A.85 .85 0 0 1 1 0"/>
<path class="rg w1" transform="matrix(694 -322 322 694 286 728)" d="M0 0A.85 .85 0 0 1 1 0"/>
<path class="rg w1" transform="matrix(927 -576 576 927 286 728)" d="M0 0A.85 .85 0 0 1 1 0"/>
<path class="rg w1" transform="matrix(915 -310 310 915 286 728)" d="M0 0A.85 .85 0 0 1 1 0"/>
<path class="rb w1" transform="matrix(1123 -365 365 1123 286 728)" d="M0 0A.85 .85 0 0 1 1 0"/>
<path class="rb w1" transform="matrix(1102 -188 188 1102 286 728)" d="M0 0A.85 .85 0 0 1 1 0"/>
<path class="rb w2" transform="matrix(996 -54 54 996 286 728)" d="M0 0A.85 .85 0 0 1 1 0"/>
<path class="rb w1" transform="matrix(1376 -45 45 1376 286 728)" d="M0 0A.85 .85 0 0 1 1 0"/>
<path class="gg w1" transform="matrix(384 230 -230 384 295 320)" d="M0 0A.85 .85 0 0 1 1 0"/>
<path class="gg w1" transform="matrix(220 90 -90 220 295 320)" d="M0 0A.85 .85 0 0 1 1 0"/>
<path class="gg w2" transform="matrix(607 366 -366 607 295 320)" d="M0 0A.85 .85 0 0 1 1 0"/>
<path class="gg w1" transform="matrix(339 -94 94 339 295 320)" d="M0 0A.85 .85 0 0 1 1 0"/>
<path class="gg w1" transform="matrix(491 -111 111 491 295 320)" d="M0 0A.85 .85 0 0 1 1 0"/>
<path class="gg w1" transform="matrix(690 -132 132 690 295 320)" d="M0 0A.85 .85 0 0 1 1 0"/>
<path class="gg w1" transform="matrix(685 86 -86 685 295 320)" d="M0 0A.85 .85 0 0 1 1 0"/>
<path class="gg w1" transform="matrix(918 -168 168 918 295 320)" d="M0 0A.85 .85 0 0 1 1 0"/>
<path class="gg w1" transform="matrix(906 98 -98 906 295 320)" d="M0 0A.85 .85 0 0 1 1 0"/>
<path class="gb w1" transform="matrix(1114 43 -43 1114 295 320)" d="M0 0A.85 .85 0 0 1 1 0"/>
<path class="gb w1" transform="matrix(1093 220 -220 1093 295 320)" d="M0 0A.85 .85 0 0 1 1 0"/>
<path class="gb w2" transform="matrix(987 354 -354 987 295 320)" d="M0 0A.85 .85 0 0 1 1 0"/>
<path class="gb w1" transform="matrix(1367 363 -363 1367 295 320)" d="M0 0A.85 .85 0 0 1 1 0"/>
<path class="gg w2" transform="matrix(-164 -140 140 -164 679 550)" d="M0 0A.85 .85 0 0 1 1 0"/>
<path class="gg w2" transform="matrix(223 136 -136 223 679 550)" d="M0 0A.85 .85 0 0 1 1 0"/>
<path class="gg w1" transform="matrix(-45 -324 324 -45 679 550)" d="M0 0A.85 .85 0 0 1 1 0"/>
<path class="gg w1" transform="matrix(107 -341 341 107 679 550)" d="M0 0A.85 .85 0 0 1 1 0"/>
<path class="gg w1" transform="matrix(306 -362 362 306 679 550)" d="M0 0A.85 .85 0 0 1 1 0"/>
<path class="gg w2" transform="matrix(301 -144 144 301 679 550)" d="M0 0A.85 .85 0 0 1 1 0"/>
<path class="gg w1" transform="matrix(534 -398 398 534 679 550)" d="M0 0A.85 .85 0 0 1 1 0"/>
<path class="gg w1" transform="matrix(522 -132 132 522 679 550)" d="M0 0A.85 .85 0 0 1 1 0"/>
<path class="gb w1" transform="matrix(730 -187 187 730 679 550)" d="M0 0A.85 .85 0 0 1 1 0"/>
<path class="gb w1" transform="matrix(709 -10 10 709 679 550)" d="M0 0A.85 .85 0 0 1 1 0"/>
<path class="gb w2" transform="matrix(603 124 -124 603 679 550)" d="M0 0A.85 .85 0 0 1 1 0"/>
<path class="gb w1" transform="matrix(983 133 -133 983 679 550)" d="M0 0A.85 .85 0 0 1 1 0"/>
<path class="gg w2" transform="matrix(387 276 -276 387 515 410)" d="M0 0A.85 .85 0 0 1 1 0"/>
<path class="gg w1" transform="matrix(119 -184 184 119 515 410)" d="M0 0A.85 .85 0 0 1 1 0"/>
<path class="gg w1" transform="matrix(271 -201 201 271 515 410)" d="M0 0A.85 .85 0 0 1 1 0"/>
<path class="gg w1" transform="matrix(470 -222 222 470 515 410)" d="M0 0A.85 .85 0 0 1 1 0"/>
<path class="gg w2" transform="matrix(465 -4 4 465 515 410)" d="M0 0A.85 .85 0 0 1 1 0"/>
<path class="gg w1" transform="matrix(698 -258 258 698 515 410)" d="M0 0A.85 .85 0 0 1 1 0"/>
<path class="gg w1" transform="matrix(686 8 -8 686 515 410)" d="M0 0A.85 .85 0 0 1 1 0"/>
<path class="gb w1" transform="matrix(894 -47 47 894 515 410)" d="M0 0A.85 .85 0 0 1 1 0"/>
<path class="gb w1" transform="matrix(873 130 -130 873 515 410)" d="M0 0A.85 .85 0 0 1 1 0"/>
<path class="gb w2" transform="matrix(767 264 -264 767 515 410)" d="M0 0A.85 .85 0 0 1 1 0"/>
<path class="gb w1" transform="matrix(1147 273 -273 1147 515 410)" d="M0 0A.85 .85 0 0 1 1 0"/>
<path class="gg w2" transform="matrix(-268 -460 460 -268 902 686)" d="M0 0A.85 .85 0 0 1 1 0"/>
<path class="gg w2" transform="matrix(-116 -477 477 -116 902 686)" d="M0 0A.85 .85 0 0 1 1 0"/>
<path class="gg w2" transform="matrix(83 -498 498 83 902 686)" d="M0 0A.85 .85 0 0 1 1 0"/>
<path class="gg w2" transform="matrix(78 -280 280 78 902 686)" d="M0 0A.85 .85 0 0 1 1 0"/>
<path class="gg w2" transform="matrix(311 -534 534 311 902 686)" d="M0 0A.85 .85 0 0 1 1 0"/>
<path class="gg w2" transform="matrix(299 -268 268 299 902 686)" d="M0 0A.85 .85 0 0 1 1 0"/>
<path class="gb w2" transform="matrix(507 -323 323 507 902 686)" d="M0 0A.85 .85 0 0 1 1 0"/>
<path class="gb w2" transform="matrix(486 -146 146 486 902 686)" d="M0 0A.85 .85 0 0 1 1 0"/>
<path class="gb w3" transform="matrix(380 -12 12 380 902 686)" d="M0 0A.85 .85 0 0 1 1 0"/>
<path class="gb w2" transform="matrix(760 -3 3 760 902 686)" d="M0 0A.85 .85 0 0 1 1 0"/>
<path class="gg w1" transform="matrix(152 -17 17 152 634 226)" d="M0 0A.85 .85 0 0 1 1 0"/>
<path class="gg w1" transform="matrix(351 -38 38 351 634 226)" d="M0 0A.85 .85 0 0 1 1 0"/>
<path class="gg w1" transform="matrix(346 180 -180 346 634 226)" d="M0 0A.85 .85 0 0 1 1 0"/>
<path class="gg w1" transform="matrix(579 -74 74 579 634 226)" d="M0 0A.85 .85 0 0 1 1 0"/>
<path class="gg w1" transform="matrix(567 192 -192 567 634 226)" d="M0 0A.85 .85 0 0 1 1 0"/>
<path class="gb w1" transform="matrix(775 137 -137 775 634 226)" d="M0 0A.85 .85 0 0 1 1 0"/>
<path class="gb w1" transform="matrix(754 314 -314 754 634 226)" d="M0 0A.85 .85 0 0 1 1 0"/>
<path class="gb w2" transform="matrix(648 448 -448 648 634 226)" d="M0 0A.85 .85 0 0 1 1 0"/>
<path class="gb w1" transform="matrix(1028 457 -457 1028 634 226)" d="M0 0A.85 .85 0 0 1 1 0"/>
<path class="gg w1" transform="matrix(199 -21 21 199 786 209)" d="M0 0A.85 .85 0 0 1 1 0"/>
<path class="gg w1" transform="matrix(194 197 -197 194 786 209)" d="M0 0A.85 .85 0 0 1 1 0"/>
<path class="gg w1" transform="matrix(427 -57 57 427 786 209)" d="M0 0A.85 .85 0 0 1 1 0"/>
<path class="gg w1" transform="matrix(415 209 -209 415 786 209)" d="M0 0A.85 .85 0 0 1 1 0"/>
<path class="gb w1" transform="matrix(623 154 -154 623 786 209)" d="M0 0A.85 .85 0 0 1 1 0"/>
<path class="gb w1" transform="matrix(602 331 -331 602 786 209)" d="M0 0A.85 .85 0 0 1 1 0"/>
<path class="gb w2" transform="matrix(496 465 -465 496 786 209)" d="M0 0A.85 .85 0 0 1 1 0"/>
<path class="gb w1" transform="matrix(876 474 -474 876 786 209)" d="M0 0A.85 .85 0 0 1 1 0"/>
<path class="gg w1" transform="matrix(-5 218 -218 -5 985 188)" d="M0 0A.85 .85 0 0 1 1 0"/>
<path class="gg w1" transform="matrix(228 -36 36 228 985 188)" d="M0 0A.85 .85 0 0 1 1 0"/>
<path class="gg w1" transform="matrix(216 230 -230 216 985 188)" d="M0 0A.85 .85 0 0 1 1 0"/>
<path class="gb w1" transform="matrix(424 175 -175 424 985 188)" d="M0 0A.85 .85 0 0 1 1 0"/>
<path class="gb w1" transform="matrix(403 352 -352 403 985 188)" d="M0 0A.85 .85 0 0 1 1 0"/>
<path class="gb w2" transform="matrix(297 486 -486 297 985 188)" d="M0 0A.85 .85 0 0 1 1 0"/>
<path class="gb w1" transform="matrix(677 495 -495 677 985 188)" d="M0 0A.85 .85 0 0 1 1 0"/>
<path class="gg w1" transform="matrix(233 -254 254 233 980 406)" d="M0 0A.85 .85 0 0 1 1 0"/>
<path class="gg w1" transform="matrix(221 12 -12 221 980 406)" d="M0 0A.85 .85 0 0 1 1 0"/>
<path class="gb w1" transform="matrix(429 -43 43 429 980 406)" d="M0 0A.85 .85 0 0 1 1 0"/>
<path class="gb w1" transform="matrix(408 134 -134 408 980 406)" d="M0 0A.85 .85 0 0 1 1 0"/>
<path class="gb w2" transform="matrix(302 268 -268 302 980 406)" d="M0 0A.85 .85 0 0 1 1 0"/>
<path class="gb w1" transform="matrix(682 277 -277 682 980 406)" d="M0 0A.85 .85 0 0 1 1 0"/>
<path class="gg w1" transform="matrix(-12 266 -266 -12 1213 152)" d="M0 0A.85 .85 0 0 1 1 0"/>
<path class="gb w1" transform="matrix(196 211 -211 196 1213 152)" d="M0 0A.85 .85 0 0 1 1 0"/>
<path class="gb w1" transform="matrix(175 388 -388 175 1213 152)" d="M0 0A.85 .85 0 0 1 1 0"/>
<path class="gb w2" transform="matrix(69 522 -522 69 1213 152)" d="M0 0A.85 .85 0 0 1 1 0"/>
<path class="gb w1" transform="matrix(449 531 -531 449 1213 152)" d="M0 0A.85 .85 0 0 1 1 0"/>
<path class="gb w1" transform="matrix(208 -55 55 208 1201 418)" d="M0 0A.85 .85 0 0 1 1 0"/>
<path class="gb w1" transform="matrix(187 122 -122 187 1201 418)" d="M0 0A.85 .85 0 0 1 1 0"/>
<path class="gb w2" transform="matrix(81 256 -256 81 1201 418)" d="M0 0A.85 .85 0 0 1 1 0"/>
<path class="gb w1" transform="matrix(461 265 -265 461 1201 418)" d="M0 0A.85 .85 0 0 1 1 0"/>
<path class="bb w1" transform="matrix(-21 177 -177 -21 1409 363)" d="M0 0A.85 .85 0 0 1 1 0"/>
<path class="bb w2" transform="matrix(-127 311 -311 -127 1409 363)" d="M0 0A.85 .85 0 0 1 1 0"/>
<path class="bb w1" transform="matrix(253 320 -320 253 1409 363)" d="M0 0A.85 .85 0 0 1 1 0"/>
<path class="bb w2" transform="matrix(-106 134 -134 -106 1388 540)" d="M0 0A.85 .85 0 0 1 1 0"/>
<path class="bb w1" transform="matrix(274 143 -143 274 1388 540)" d="M0 0A.85 .85 0 0 1 1 0"/>
<path class="bb w2" transform="matrix(380 9 -9 380 1282 674)" d="M0 0A.85 .85 0 0 1 1 0"/>
</g>
<g id="legend-box"><rect x="-20" y="1352" width="130" height="80" rx="20" fill="#ffffff" stroke="#e2e2e2" stroke-width="2"/></g>
<g id="nodes">
<g id="n-eae" class="n ng"><circle cx="295" cy="320" r="10"/><text x="295" y="328" font-size="27">EAE</text></g>
<g id="n-induction" class="n ng"><circle cx="634" cy="226" r="9"/><text x="634" y="234" font-size="27">Induction</text></g>
<g id="n-expression" class="n ng"><circle cx="786" cy="209" r="9"/><text x="786" y="217" font-size="25.7">Expression</text></g>
<g id="n-mice" class="n ng"><circle cx="985" cy="188" r="8"/><text x="985" y="196" font-size="26">Mice</text></g>
<g id="n-cells" class="n ng"><circle cx="1213" cy="152" r="8"/><text x="1213" y="160" font-size="26">Cells</text></g>
<g id="n-ms" class="n ng"><circle cx="515" cy="410" r="23"/><text x="518" y="421" font-size="34.5">Multiple Sclerosis</text></g>
<g id="n-inflammation" class="n ng"><circle cx="980" cy="406" r="25"/><text x="981" y="417" font-size="35.3">Inflammation</text></g>
<g id="n-bacteria" class="n ng"><circle cx="1201" cy="418" r="14"/><text x="1202" y="427" font-size="29.6">Bacteria</text></g>
<g id="n-tcells" class="n ng"><circle cx="679" cy="550" r="21"/><text x="676" y="560" font-size="31.5">T Cells</text></g>
<g id="n-microbiota" class="n ng"><circle cx="902" cy="686" r="30"/><text x="902" y="697" font-size="37.7">Microbiota</text></g>
<g id="n-disease" class="n nb"><circle cx="1409" cy="363" r="14"/><text x="1407" y="372" font-size="29">Disease</text></g>
<g id="n-gutmicrobiome" class="n nb"><circle cx="1388" cy="540" r="13"/><text x="1390" y="548" font-size="27.3">Gut Microbiome</text></g>
<g id="n-autoimmunity" class="n nb"><circle cx="1282" cy="674" r="33"/><text x="1281" y="686" font-size="37.8">Autoimmunity</text></g>
<g id="n-risk" class="n nb"><circle cx="1662" cy="683" r="10"/><text x="1665" y="691" font-size="26.5">Risk</text></g>
<g id="n-children" class="n nb"><circle cx="1734" cy="748" r="8"/><text x="1737" y="756" font-size="25.3">Children</text></g>
<g id="n-pathogenesis" class="n nb"><circle cx="1469" cy="888" r="12"/><text x="1472" y="896" font-size="26.5">Pathogenesis</text></g>
<g id="n-dysbiosis" class="n nb"><circle cx="1426" cy="1068" r="18"/><text x="1430" y="1078" font-size="32">Dysbiosis</text></g>
<g id="n-microbiome" class="n nb"><circle cx="1263" cy="1081" r="20"/><text x="1261" y="1091" font-size="32">Microbiome</text></g>
<g id="n-dc" class="n nr"><circle cx="286" cy="728" r="10"/><text x="285" y="736" font-size="27.6">Dendritic Cells</text></g>
<g id="n-ir" class="n nr"><circle cx="645" cy="763" r="11"/><text x="644" y="771" font-size="25.9">Immune Responses</text></g>
<g id="n-rtc" class="n nr"><circle cx="334" cy="824" r="22"/><text x="331" y="834" font-size="32.9">Regulatory T Cells</text></g>
<g id="n-cfa" class="n nr"><circle cx="487" cy="1055" r="13"/><text x="487" y="1064" font-size="29.4">Chain Fatty Acids</text></g>
<g id="n-probiotics" class="n nr"><circle cx="684" cy="1046" r="12"/><text x="684" y="1055" font-size="28.3">Probiotics</text></g>
<g id="n-ra" class="n nr"><circle cx="936" cy="1180" r="14"/><text x="935" y="1189" font-size="31">Rheumatoid Arthritis</text></g>
<g id="n-ad" class="n nr"><circle cx="1141" cy="1250" r="13"/><text x="1138" y="1259" font-size="29">Autoimmune Diseases</text></g>
<g id="n-ibd" class="n nr"><circle cx="573" cy="1285" r="13"/><text x="572" y="1294" font-size="29.5">Inflammatory Bowel Disease</text></g>
<g id="n-uc" class="n nr"><circle cx="729" cy="1363" r="8"/><text x="729" y="1370" font-size="24.7">Ulcerative Colitis</text></g>
<g id="n-intestinal" class="n nr"><circle cx="1121" cy="997" r="26"/><text x="1123" y="1008" font-size="37">Intestinal Microbiota</text></g>
<g id="n-gut" class="n nr"><circle cx="920" cy="852" r="65"/><text x="920" y="868" font-size="52.5">Gut Microbiota</text></g>
</g>
</svg>
